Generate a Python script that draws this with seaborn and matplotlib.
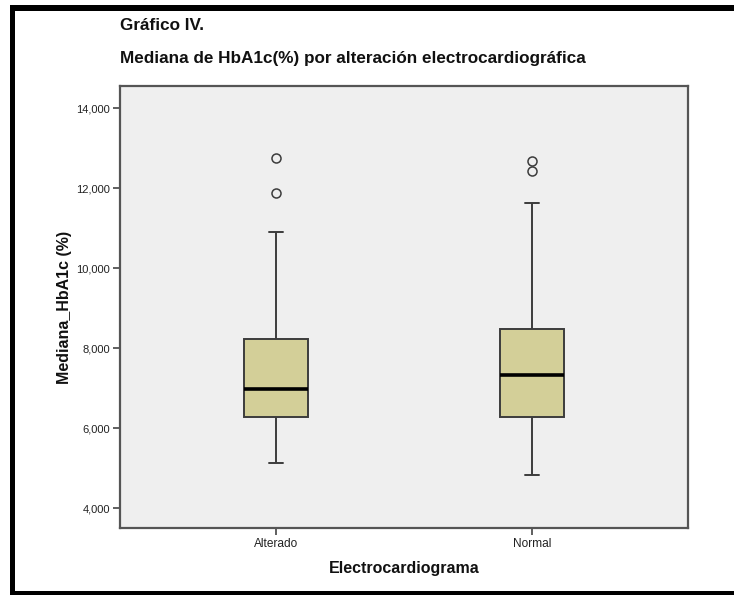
import matplotlib
matplotlib.use("Agg")
import matplotlib.pyplot as plt
from matplotlib.patches import Rectangle
from matplotlib.ticker import FixedLocator, FuncFormatter
import seaborn as sns
import pandas as pd

# ---- data (HbA1c %) ----
categories = ["Alterado", "Normal"]
alterado_values = [5.12, 5.60, 6.00, 6.27, 6.50, 6.80, 6.97, 7.30, 7.80, 8.22, 10.90, 11.87, 12.74]
normal_values = [4.82, 5.50, 6.00, 6.27, 6.70, 7.00, 7.32, 7.70, 8.10, 8.47, 11.62, 12.42, 12.67]
y_ticks = [4, 6, 8, 10, 12, 14]

title_top = "Gráfico IV."
title_main = "Mediana de HbA1c(%) por alteración electrocardiográfica"
x_label = "Electrocardiograma"
y_label = "Mediana_HbA1c (%)"

df = pd.DataFrame({
    "Electrocardiograma": [categories[0]] * len(alterado_values) + [categories[1]] * len(normal_values),
    "HbA1c": alterado_values + normal_values,
})

sns.set_theme(style="white")
plt.rcParams["font.family"] = ["Liberation Sans", "DejaVu Sans"]

W, H = 734, 595
fig = plt.figure(figsize=(W / 100, H / 100), dpi=100)
fig.patch.set_facecolor("white")

L, R, T, B = 120, 688, 86, 528
ax = fig.add_axes([L / W, 1 - B / H, (R - L) / W, (B - T) / H])
ax.set_facecolor("#EFEFEF")

edge = "#3C3C3C"
sns.boxplot(
    data=df, x="Electrocardiograma", y="HbA1c", order=categories, ax=ax,
    width=0.25, color="#D3CF98", linecolor=edge, linewidth=1.4, whis=1.5,
    boxprops=dict(facecolor="#D3CF98", edgecolor=edge, linewidth=1.4),
    medianprops=dict(color="black", linewidth=2.6),
    whiskerprops=dict(color=edge, linewidth=1.4),
    capprops=dict(color=edge, linewidth=1.4),
    flierprops=dict(marker="o", markersize=6.5, markerfacecolor="none",
                    markeredgecolor=edge, markeredgewidth=1.1),
    capwidths=0.058,
)

ax.set_xlim(-0.61, 1.61)
ax.set_ylim(3.5, 14.55)
ax.yaxis.set_major_locator(FixedLocator(y_ticks))
ax.yaxis.set_major_formatter(FuncFormatter(lambda v, p: f"{v:.3f}".replace(".", ",")))

for s in ax.spines.values():
    s.set_color("#555555")
    s.set_linewidth(1.6)
    s.set_visible(True)

ax.tick_params(axis="both", which="major", direction="out", length=5, width=1.2,
               color="#444444", labelcolor="#222222", pad=2,
               left=True, bottom=True)
ax.tick_params(axis="y", labelsize=8)
ax.tick_params(axis="x", labelsize=8.6)

ax.set_xlabel(x_label, fontsize=11.5, fontweight="bold", labelpad=8, color="#111111")
ax.set_ylabel(y_label, fontsize=11.5, fontweight="bold", labelpad=3, color="#111111")

fig.text(120 / W, 1 - 25 / H, title_top, fontsize=12.3, fontweight="bold",
         ha="left", va="center", color="#111111")
fig.text(120 / W, 1 - 59 / H, title_main, fontsize=12.3, fontweight="bold",
         ha="left", va="center", color="#111111")

# black frame bars around the picture
fig.patches.append(Rectangle((10 / W, 0), 5 / W, 1 - 5 / H, transform=fig.transFigure,
                             facecolor="black", edgecolor="none", zorder=10))
fig.patches.append(Rectangle((10 / W, 1 - 11 / H), 1 - 10 / W, 6 / H, transform=fig.transFigure,
                             facecolor="black", edgecolor="none", zorder=10))
fig.patches.append(Rectangle((10 / W, 0), 1 - 10 / W, 4 / H, transform=fig.transFigure,
                             facecolor="black", edgecolor="none", zorder=10))

fig.savefig("out.png", dpi=100, facecolor="white")
